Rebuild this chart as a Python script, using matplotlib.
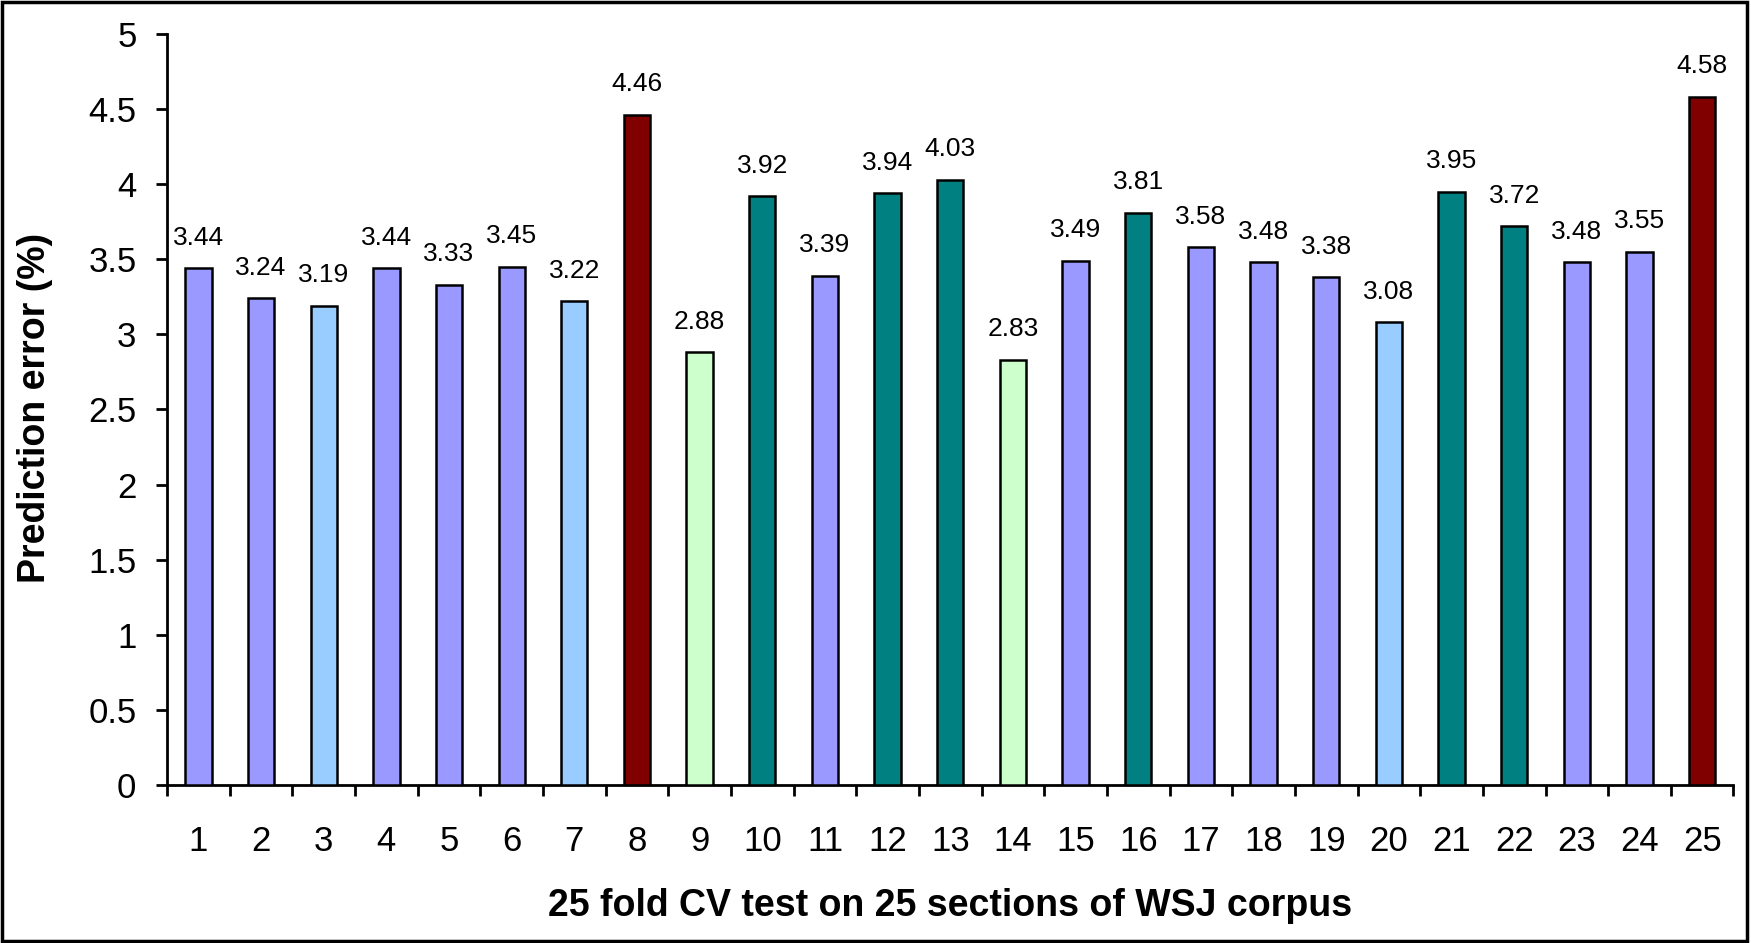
import numpy as np
import matplotlib.pyplot as plt
from matplotlib.patches import Rectangle
from matplotlib.ticker import FixedLocator, NullFormatter

plt.rcParams['font.family'] = ['Liberation Sans', 'DejaVu Sans']

# Prediction error per CV fold
folds = [str(i) for i in range(1, 26)]
errors = [3.44, 3.24, 3.19, 3.44, 3.33, 3.45, 3.22, 4.46, 2.88, 3.92,
          3.39, 3.94, 4.03, 2.83, 3.49, 3.81, 3.58, 3.48, 3.38, 3.08,
          3.95, 3.72, 3.48, 3.55, 4.58]
colors = ['#9999FF', '#9999FF', '#99CCFF', '#9999FF', '#9999FF', '#9999FF',
          '#99CCFF', '#800000', '#CCFFCC', '#008080', '#9999FF', '#008080',
          '#008080', '#CCFFCC', '#9999FF', '#008080', '#9999FF', '#9999FF',
          '#9999FF', '#99CCFF', '#008080', '#008080', '#9999FF', '#9999FF',
          '#800000']

fig = plt.figure(figsize=(17.51, 9.43), dpi=100)
ax = fig.add_axes([0.0954, 0.1676, 0.8946, 0.7964])

x = np.arange(len(folds))
ax.bar(x, errors, width=0.42, color=colors, edgecolor='black', linewidth=1.8, zorder=3)

for xi, v in zip(x, errors):
    ax.annotate(f'{v:.2f}', (xi, v), xytext=(0, 17), textcoords='offset points',
                ha='center', va='baseline', fontsize=19)

ax.set_xlim(-0.5, len(folds) - 0.5)
ax.set_ylim(0, 5)
ax.set_yticks(np.arange(0, 5.01, 0.5))
ax.set_yticklabels(['0', '0.5', '1', '1.5', '2', '2.5', '3', '3.5', '4', '4.5', '5'])
ax.set_xticks(x)
ax.set_xticklabels(folds)
ax.xaxis.set_minor_locator(FixedLocator(np.arange(-0.5, len(folds), 1.0)))
ax.xaxis.set_minor_formatter(NullFormatter())

ax.tick_params(axis='y', direction='out', length=8, width=2, labelsize=25, pad=14)
ax.tick_params(axis='x', which='major', length=0, labelsize=25, pad=29)
ax.tick_params(axis='x', which='minor', direction='out', length=8, width=2)

for side in ['top', 'right']:
    ax.spines[side].set_visible(False)
for side in ['left', 'bottom']:
    ax.spines[side].set_linewidth(2)

ax.set_xlabel('25 fold CV test on 25 sections of WSJ corpus', fontsize=27, fontweight='bold')
ax.xaxis.label.set_va('center')
ax.xaxis.set_label_coords(0.5, -0.161)
ax.set_ylabel('Prediction error (%)', fontsize=27, fontweight='bold')
ax.yaxis.label.set_va('center')
ax.yaxis.set_label_coords(-0.084, 0.502)

# Frame around the whole figure
fig.patches.append(Rectangle((0.001, 0.002), 0.997, 0.996, transform=fig.transFigure,
                             fill=False, edgecolor='black', linewidth=2.5))

fig.savefig('out.png', dpi=100)
